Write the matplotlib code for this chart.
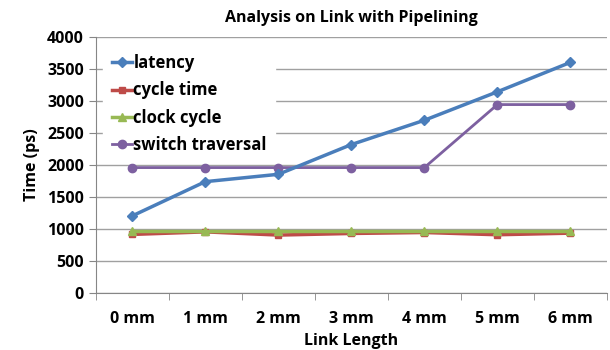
import matplotlib.pyplot as plt
from matplotlib.ticker import FixedLocator

# data
categories = ["0 mm", "1 mm", "2 mm", "3 mm", "4 mm", "5 mm", "6 mm"]
latency = [1205, 1740, 1855, 2320, 2700, 3145, 3605]
cycle_time = [915, 955, 905, 930, 945, 910, 935]
clock_cycle = [975, 975, 975, 975, 975, 975, 975]
switch_traversal = [1960, 1960, 1960, 1960, 1960, 2945, 2945]

plt.rcParams['font.family'] = ['Open Sans', 'DejaVu Sans']
plt.rcParams['font.weight'] = 'bold'

fig = plt.figure(figsize=(6.1, 3.5), dpi=100)
ax = fig.add_axes([0.157, 0.163, 0.838, 0.731])

x = range(len(categories))
ax.plot(x, latency, color='#4a7ebb', marker='D', markersize=5, lw=2.5, label='latency', zorder=4)
ax.plot(x, cycle_time, color='#be4b48', marker='s', markersize=5, lw=2.5, label='cycle time', zorder=3)
ax.plot(x, clock_cycle, color='#98b954', marker='^', markersize=6, lw=2.5, label='clock cycle', zorder=3)
ax.plot(x, switch_traversal, color='#7d60a0', marker='o', markersize=6, lw=2, label='switch traversal', zorder=3)

ax.set_xlim(-0.5, len(categories) - 0.5)
ax.set_ylim(0, 4000)
ax.set_yticks(range(0, 4001, 500))
ax.set_xticks(list(x))
ax.set_xticklabels(categories)
ax.xaxis.set_minor_locator(FixedLocator([i - 0.5 for i in range(len(categories) + 1)]))
ax.tick_params(axis='x', which='major', length=0, pad=13, labelsize=11.5)
ax.tick_params(axis='x', which='minor', length=5, color='#868686')
ax.tick_params(axis='y', length=5, color='#868686', labelsize=11.5)

ax.grid(axis='y', color='#a0a0a0', lw=1)
ax.set_axisbelow(True)
for side in ['top', 'right']:
    ax.spines[side].set_visible(False)
for side in ['left', 'bottom']:
    ax.spines[side].set_color('#868686')

ax.set_title('Analysis on Link with Pipelining', fontsize=11.5, fontweight='bold', pad=11)
ax.set_xlabel('Link Length', fontsize=11.5, fontweight='bold', labelpad=4)
ax.set_ylabel('Time (ps)', fontsize=11.5, fontweight='bold', labelpad=5)

leg = ax.legend(loc='upper left', bbox_to_anchor=(0.005, 0.985), frameon=True, fancybox=False,
                edgecolor='white', framealpha=1, fontsize=12, handlelength=1.2,
                handletextpad=0.1, labelspacing=0.55, borderaxespad=0.3, borderpad=0.5)
leg.set_zorder(5)

fig.savefig('out.png', dpi=100)
